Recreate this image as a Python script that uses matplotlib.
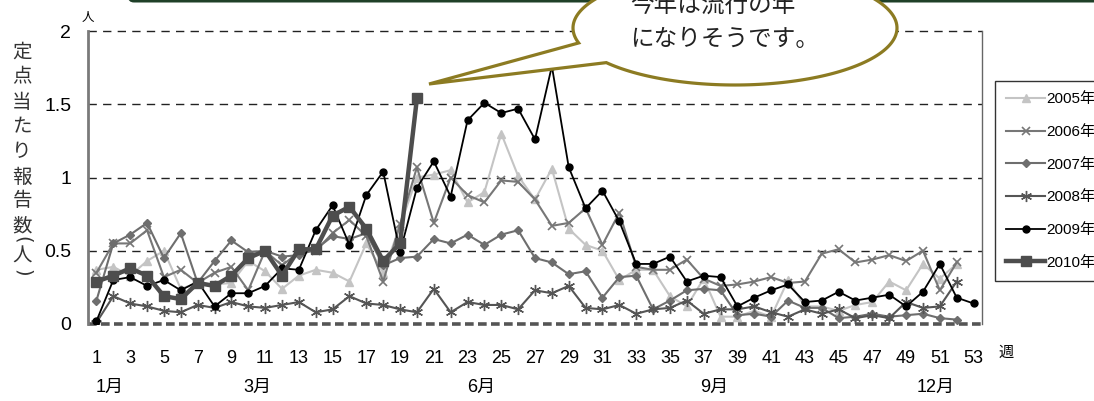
import matplotlib
matplotlib.use("Agg")
import matplotlib.pyplot as plt
import numpy as np
from matplotlib.patches import Polygon, FancyBboxPatch

# weekly reports per sentinel site, weeks 1..n
WEEKS = list(range(1, 54))
YEARS = ["2005年", "2006年", "2007年", "2008年", "2009年", "2010年"]

y2005 = [0.37, 0.39, 0.33, 0.43, 0.50, 0.24, 0.28, 0.27, 0.28, 0.43,
         0.36, 0.24, 0.33, 0.37, 0.35, 0.29, 0.55, 0.35, 0.67, 1.00,
         1.02, 1.05, 0.83, 0.90, 1.30, 1.01, 0.85, 1.06, 0.65, 0.54,
         0.50, 0.30, 0.37, 0.37, 0.19, 0.12, 0.31, 0.05, 0.05, 0.09,
         0.05, 0.30, 0.12, 0.12, 0.09, 0.13, 0.15, 0.29, 0.23, 0.41,
         0.31, 0.41]
y2006 = [0.35, 0.55, 0.55, 0.64, 0.32, 0.37, 0.28, 0.35, 0.39, 0.23,
         0.50, 0.40, 0.49, 0.50, 0.62, 0.71, 0.60, 0.29, 0.68, 1.07,
         0.69, 1.00, 0.88, 0.83, 0.98, 0.97, 0.85, 0.67, 0.69, 0.79,
         0.54, 0.76, 0.39, 0.37, 0.37, 0.44, 0.31, 0.26, 0.27, 0.29,
         0.32, 0.28, 0.29, 0.48, 0.51, 0.42, 0.44, 0.47, 0.43, 0.50,
         0.23, 0.42]
y2007 = [0.16, 0.55, 0.61, 0.69, 0.45, 0.62, 0.28, 0.43, 0.57, 0.49,
         0.50, 0.46, 0.47, 0.51, 0.60, 0.58, 0.62, 0.40, 0.45, 0.46,
         0.58, 0.55, 0.61, 0.54, 0.61, 0.64, 0.45, 0.42, 0.34, 0.36,
         0.18, 0.32, 0.33, 0.10, 0.16, 0.23, 0.24, 0.23, 0.06, 0.07,
         0.05, 0.16, 0.11, 0.11, 0.04, 0.05, 0.07, 0.05, 0.06, 0.07,
         0.04, 0.03]
y2008 = [0.01, 0.19, 0.14, 0.12, 0.09, 0.08, 0.13, 0.11, 0.15, 0.12,
         0.11, 0.13, 0.15, 0.08, 0.10, 0.19, 0.14, 0.13, 0.10, 0.08,
         0.24, 0.08, 0.15, 0.13, 0.13, 0.10, 0.23, 0.21, 0.26, 0.11,
         0.10, 0.13, 0.07, 0.10, 0.11, 0.16, 0.07, 0.10, 0.10, 0.12,
         0.08, 0.05, 0.10, 0.07, 0.10, 0.04, 0.06, 0.04, 0.15, 0.11,
         0.12, 0.29]
y2009 = [0.02, 0.30, 0.32, 0.26, 0.30, 0.23, 0.29, 0.12, 0.21, 0.21,
         0.26, 0.38, 0.37, 0.64, 0.81, 0.54, 0.88, 1.04, 0.49, 0.93,
         1.11, 0.87, 1.39, 1.51, 1.44, 1.47, 1.26, 1.76, 1.07, 0.79,
         0.91, 0.70, 0.41, 0.41, 0.46, 0.29, 0.33, 0.32, 0.12, 0.18,
         0.23, 0.27, 0.15, 0.16, 0.22, 0.16, 0.18, 0.20, 0.12, 0.22,
         0.41, 0.18, 0.14]
y2010 = [0.29, 0.33, 0.38, 0.33, 0.19, 0.17, 0.28, 0.26, 0.33, 0.45,
         0.50, 0.33, 0.51, 0.51, 0.74, 0.80, 0.65, 0.43, 0.55, 1.54]

Y_TICKS = [0, 0.5, 1, 1.5, 2]
Y_TICK_LABELS = ["0", "0.5", "1", "1.5", "2"]
MONTHS = ["1月", "3月", "6月", "9月", "12月"]
MONTH_WEEK = [0.95, 9.7, 23.0, 36.8, 49.6]

NUM = ["Liberation Sans", "Noto Sans CJK JP"]
JP = ["Noto Sans CJK JP", "DejaVu Sans"]

STYLES = [
    dict(color="#c4c4c4", marker="^", ms=6, lw=1.5),
    dict(color="#777777", marker="x", ms=6, mew=1.2, lw=1.5),
    dict(color="#6e6e6e", marker="D", ms=4.5, lw=1.5),
    dict(color="#555555", marker=(6, 2, 0), ms=8, mew=1.0, lw=1.5),
    dict(color="#000000", marker="o", ms=5, lw=1.3),
    dict(color="#4d4d4d", marker="s", ms=7, lw=3.2),
]

W, H = 1094, 401
fig = plt.figure(figsize=(W / 100, H / 100), dpi=100)
ax = fig.add_axes([88 / W, 1 - 324 / H, 894 / W, 293 / H])

series = [y2005, y2006, y2007, y2008, y2009, y2010]
for name, vals, st in zip(YEARS, series, STYLES):
    ax.plot(WEEKS[:len(vals)], vals, label=name, zorder=3, **st)

ax.set_xlim(0.5, 53.5)
ax.set_ylim(0, 2)
for y in Y_TICKS[1:]:
    ax.axhline(y, color="#222222", lw=1.0, dashes=(6, 4.5), zorder=1,
               clip_on=False)
ax.axhline(0, color="#555555", lw=2.6, dashes=(2.4, 1.2), zorder=1,
           clip_on=False)
ax.set_yticks(Y_TICKS)
ax.set_yticklabels(Y_TICK_LABELS, family=NUM, fontsize=14)
ax.set_xticks(WEEKS[::2])
ax.set_xticklabels([str(w) for w in WEEKS[::2]], family=NUM, fontsize=13)
ax.tick_params(length=0)
ax.tick_params(axis="y", pad=12)
ax.tick_params(axis="x", pad=19)
for s in ("top", "bottom"):
    ax.spines[s].set_visible(False)
ax.spines["left"].set_color("#7a7a7a")
ax.spines["left"].set_linewidth(2)
ax.spines["right"].set_color("#666666")
ax.spines["right"].set_linewidth(1)

# month markers under the week axis
for m, w in zip(MONTHS, MONTH_WEEK):
    ax.text(w, -0.218, m, transform=ax.get_xaxis_transform(), ha="left",
            va="center", family=NUM, fontsize=13)
ax.text(1.018, -0.095, "週", transform=ax.transAxes, ha="left", va="center",
        family=JP, fontsize=11)
ax.text(0.0, 1.045, "人", transform=ax.transAxes, ha="center", va="center",
        family=JP, fontsize=9)

leg = fig.legend(loc="upper left", bbox_to_anchor=(995 / W, 1 - 81 / H),
                 prop=dict(family=NUM, size=11), frameon=True,
                 fancybox=False, edgecolor="black", handlelength=2.5,
                 labelspacing=1.22, handletextpad=0.12, borderpad=0.75,
                 borderaxespad=0)
leg.get_frame().set_linewidth(1.0)

# overlay in pixel coordinates for the vertical label, banner and bubble
ov = fig.add_axes([0, 0, 1, 1], zorder=10)
ov.set_xlim(0, W)
ov.set_ylim(H, 0)
ov.axis("off")
ov.patch.set_alpha(0)

ylabel = ["定", "点", "当", "た", "り", "報", "告", "数"]
ypos = [52, 77, 102, 127, 152, 177, 201, 226]
for ch, yy in zip(ylabel, ypos):
    ov.text(22, yy, ch, ha="center", va="center", family=JP, fontsize=14,
            color="#333333")
ov.text(22, 240, "(", ha="center", va="center", family="DejaVu Sans",
        fontsize=14, color="#333333", rotation=270)
ov.text(22, 256, "人", ha="center", va="center", family=JP, fontsize=14,
        color="#333333")
ov.text(22, 273, ")", ha="center", va="center", family="DejaVu Sans",
        fontsize=14, color="#333333", rotation=270)

ov.add_patch(FancyBboxPatch((128, -10), 1000, 12.5,
                            boxstyle="round,pad=0,rounding_size=6",
                            fc="#1f4028", ec="none"))

cx, cy, a, b = 735, 28, 162, 57
t = np.radians(np.linspace(164.8, 360 + 142.6, 200))
pts = np.column_stack([cx + a * np.cos(t), cy + b * np.sin(t)])
pts = np.vstack([pts, [[429, 84]]])
ov.add_patch(Polygon(pts, closed=True, fc="white", ec="#8c7b22", lw=2.3,
                     joinstyle="miter"))
ov.text(630, 5, "今年は流行の年", ha="left", va="center", family=JP,
        fontsize=17, color="#222222")
ov.text(630, 39, "になりそうです。", ha="left", va="center", family=JP,
        fontsize=17, color="#222222")

fig.savefig("out.png", dpi=100)
